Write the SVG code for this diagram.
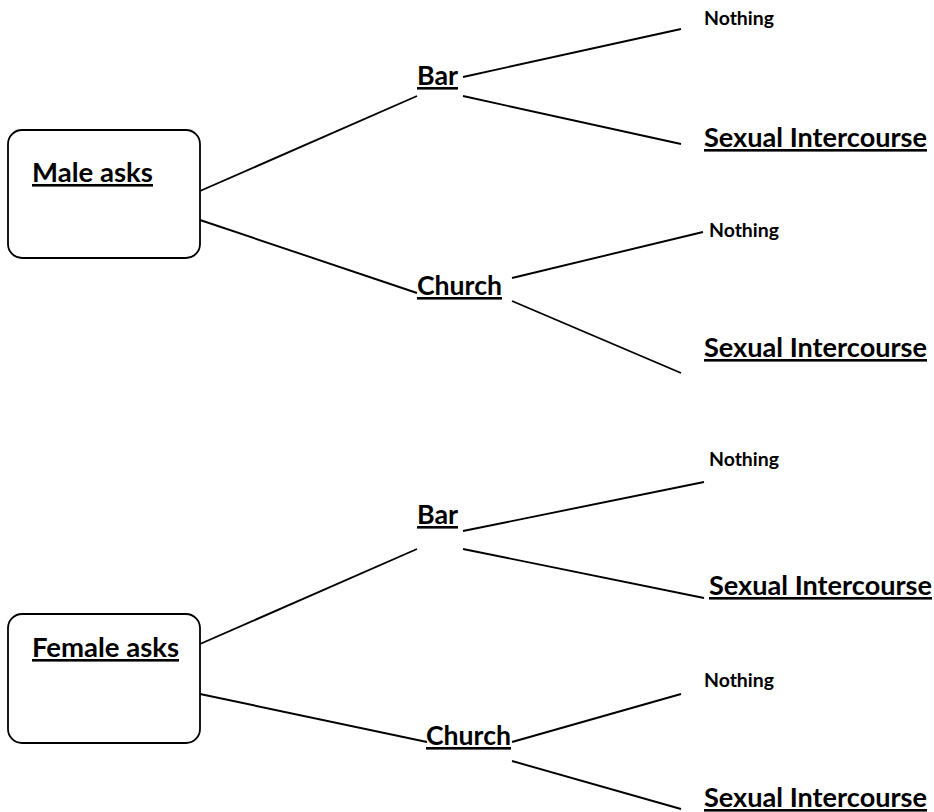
<svg xmlns="http://www.w3.org/2000/svg" width="934" height="812" viewBox="0 0 934 812">
<style>
.box{fill:#fff;stroke:#000;stroke-width:1.8}
.t{font-family:Lato,"Open Sans","Liberation Sans",sans-serif;font-weight:bold;fill:#000}
.big{font-size:26px;text-decoration:underline}
.small{font-size:19px}
.c line{stroke:#000;stroke-width:1.9}
</style>
<rect width="934" height="812" fill="#fff"/>
<g class="c" id="connectors">
<line x1="200" y1="191" x2="417" y2="96"/>
<line x1="200" y1="220" x2="417" y2="293"/>
<line x1="463" y1="77" x2="681" y2="29"/>
<line x1="463" y1="96" x2="681" y2="144"/>
<line x1="512" y1="278" x2="703" y2="232"/>
<line x1="512" y1="301" x2="681" y2="373"/>
<line x1="200" y1="644" x2="417" y2="549"/>
<line x1="200" y1="694" x2="427" y2="742"/>
<line x1="463" y1="531" x2="704" y2="482"/>
<line x1="463" y1="549" x2="704" y2="598"/>
<line x1="512" y1="742" x2="681" y2="694"/>
<line x1="512" y1="761" x2="681" y2="809"/>
</g>
<g id="male"><rect class="box" x="8" y="130" width="192" height="128" rx="14"/><text class="t big" x="32" y="182" textLength="121" lengthAdjust="spacingAndGlyphs">Male asks</text></g>
<g id="female"><rect class="box" x="8" y="614" width="192" height="129" rx="14"/><text class="t big" x="32" y="657" textLength="147" lengthAdjust="spacingAndGlyphs">Female asks</text></g>
<g id="bar1"><text class="t big" x="417" y="85" textLength="41" lengthAdjust="spacingAndGlyphs">Bar</text></g>
<g id="church1"><text class="t big" x="417" y="295" textLength="85" lengthAdjust="spacingAndGlyphs">Church</text></g>
<g id="nothing1"><text class="t small" x="704" y="25" textLength="70" lengthAdjust="spacingAndGlyphs">Nothing</text></g>
<g id="sex1"><text class="t big" x="704" y="147" textLength="223" lengthAdjust="spacingAndGlyphs">Sexual Intercourse</text></g>
<g id="nothing2"><text class="t small" x="709" y="237" textLength="70" lengthAdjust="spacingAndGlyphs">Nothing</text></g>
<g id="sex2"><text class="t big" x="704" y="357" textLength="223" lengthAdjust="spacingAndGlyphs">Sexual Intercourse</text></g>
<g id="bar2"><text class="t big" x="417" y="524" textLength="41" lengthAdjust="spacingAndGlyphs">Bar</text></g>
<g id="church2"><text class="t big" x="426" y="745" textLength="85" lengthAdjust="spacingAndGlyphs">Church</text></g>
<g id="nothing3"><text class="t small" x="709" y="466" textLength="70" lengthAdjust="spacingAndGlyphs">Nothing</text></g>
<g id="sex3"><text class="t big" x="709" y="595" textLength="223" lengthAdjust="spacingAndGlyphs">Sexual Intercourse</text></g>
<g id="nothing4"><text class="t small" x="704" y="687" textLength="70" lengthAdjust="spacingAndGlyphs">Nothing</text></g>
<g id="sex4"><text class="t big" x="704" y="807" textLength="223" lengthAdjust="spacingAndGlyphs">Sexual Intercourse</text></g>
</svg>
